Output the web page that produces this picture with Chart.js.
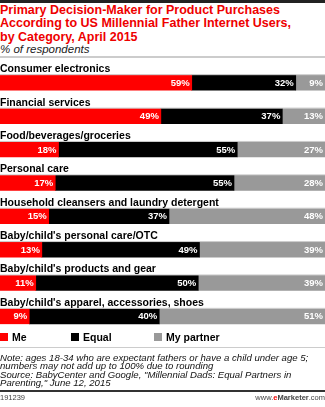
<!DOCTYPE html>
<html>
<head>
<meta charset="utf-8">
<script src="https://cdn.jsdelivr.net/npm/chart.js@4.4.1/dist/chart.umd.min.js"></script>
<style>
  body { margin: 0; background: #fff; font-family: "Liberation Sans", Arial, sans-serif; }
  #wrap { position: relative; width: 325px; height: 407px; overflow: hidden; }
  #topbar { position: absolute; left: 0; top: 0; width: 325px; height: 3px; background: #222; }
  #title { position: absolute; left: 0; top: 4px; font-weight: bold; font-size: 12.5px; line-height: 13.3px; color: #e00; }
  #subtitle { position: absolute; left: 0; top: 43px; font-style: italic; font-size: 11.5px; color: #222; }
  #sep1 { position: absolute; left: 0; top: 56px; width: 325px; height: 2px; background: #ccc; }
  #chart { position: absolute; left: 0; top: 0; }
  #legend { position: absolute; left: 0; top: 331px; width: 325px; height: 14px; font-weight: bold; font-size: 10.5px; }
  .item { position: absolute; top: 0; white-space: nowrap; }
  .box { display: inline-block; width: 8px; height: 8px; margin-right: 4px; vertical-align: 0px; }
  #sep2 { position: absolute; left: 0; top: 347px; width: 325px; height: 1px; background: #ccc; }
  #notes { position: absolute; left: 0; top: 354px; font-style: italic; font-size: 9.6px; line-height: 8.4px; color: #111; }
  #sep3 { position: absolute; left: 0; top: 390px; width: 325px; height: 2px; background: #333; }
  #id { position: absolute; left: 0; top: 393px; font-size: 7.5px; color: #444; }
  #site { position: absolute; right: 0; top: 393px; font-size: 7.5px; color: #444; }
</style>
</head>
<body>
<div id="wrap">
  <div id="topbar"></div>
  <div id="title">Primary Decision-Maker for Product Purchases<br>According to US Millennial Father Internet Users,<br>by Category, April 2015</div>
  <div id="subtitle">% of respondents</div>
  <div id="sep1"></div>
  <canvas id="chart" width="325" height="407"></canvas>
  <div id="legend"></div>
  <div id="sep2"></div>
  <div id="notes">Note: ages 18-34 who are expectant fathers or have a child under age 5;<br>numbers may not add up to 100% due to rounding<br>Source: BabyCenter and Google, "Millennial Dads: Equal Partners in<br>Parenting," June 12, 2015</div>
  <div id="sep3"></div>
  <div id="id">191239</div>
  <div id="site">www.<span style="color:#e00;font-weight:bold">e</span><b>Marketer</b>.com</div>
</div>
<script>
// categorias e valores (% dos respondentes)
const categories = [
  'Consumer electronics',
  'Financial services',
  'Food/beverages/groceries',
  'Personal care',
  'Household cleansers and laundry detergent',
  "Baby/child's personal care/OTC",
  "Baby/child's products and gear",
  "Baby/child's apparel, accessories, shoes"
];
const me = [59, 49, 18, 17, 15, 13, 11, 9];
const equal = [32, 37, 55, 55, 37, 49, 50, 40];
const partner = [9, 13, 27, 28, 48, 39, 39, 51];

const seriesNames = ['Me', 'Equal', 'My partner'];
const seriesColors = ['#ff0000', '#000000', '#999999'];
const rawSeries = [me, equal, partner];

// barras ocupam a largura toda: normaliza pelo total de cada linha
const totals = categories.map((c, i) => me[i] + equal[i] + partner[i]);
const datasets = rawSeries.map((vals, s) => ({
  label: seriesNames[s],
  data: vals.map((v, i) => v / totals[i] * 100),
  raw: vals,
  backgroundColor: seriesColors[s],
  borderWidth: 0,
  barThickness: 15
}));

// rótulos das categorias e dos valores
const labelPlugin = {
  id: 'labels',
  afterDatasetsDraw(chart) {
    const ctx = chart.ctx;
    const area = chart.chartArea;
    const first = chart.getDatasetMeta(0);
    ctx.save();
    categories.forEach((cat, i) => {
      const bar = first.data[i];
      const top = bar.y - bar.height / 2;
      ctx.fillStyle = '#cccccc';
      ctx.fillRect(area.left, top - 1, area.right - area.left, 1);
      ctx.fillStyle = '#000';
      ctx.font = 'bold 10.5px "Liberation Sans", Arial, sans-serif';
      ctx.textAlign = 'left';
      ctx.textBaseline = 'alphabetic';
      ctx.fillText(cat, 0, top - 3);
    });
    ctx.font = 'bold 9.5px "Liberation Sans", Arial, sans-serif';
    ctx.textAlign = 'right';
    ctx.textBaseline = 'middle';
    ctx.fillStyle = '#fff';
    chart.data.datasets.forEach((ds, d) => {
      chart.getDatasetMeta(d).data.forEach((el, i) => {
        ctx.fillText(ds.raw[i] + '%', el.x - 2, el.y + 0.5);
      });
    });
    ctx.restore();
  }
};

new Chart(document.getElementById('chart'), {
  type: 'bar',
  data: { labels: categories, datasets: datasets },
  options: {
    indexAxis: 'y',
    responsive: false,
    animation: false,
    layout: { padding: { top: 66, bottom: 74, left: 0, right: 0 } },
    scales: {
      x: { stacked: true, min: 0, max: 100, display: false },
      y: { stacked: true, display: false }
    },
    plugins: { legend: { display: false }, tooltip: { enabled: false } }
  },
  plugins: [labelPlugin]
});

// legenda em HTML
const legendX = [0, 71, 154];
const legend = document.getElementById('legend');
seriesNames.forEach((name, s) => {
  const item = document.createElement('div');
  item.className = 'item';
  item.style.left = legendX[s] + 'px';
  item.innerHTML = '<span class="box" style="background:' + seriesColors[s] + '"></span>' + name;
  legend.appendChild(item);
});
</script>
</body>
</html>
